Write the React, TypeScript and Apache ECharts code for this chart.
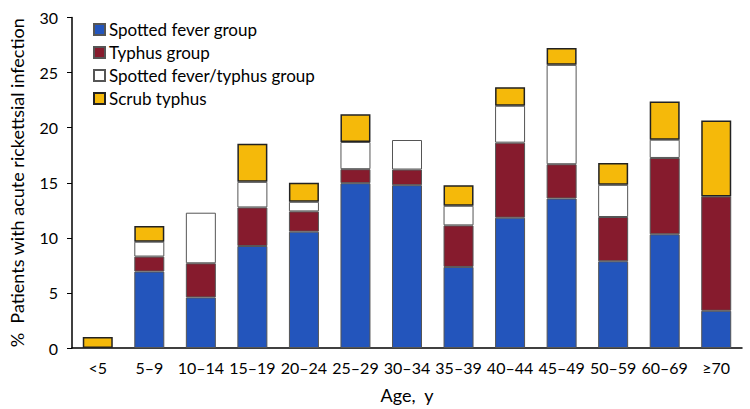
import React, { useEffect, useRef } from "react";
import * as echarts from "echarts";

const categories = ["<5", "5–9", "10–14", "15–19", "20–24", "25–29", "30–34", "35–39", "40–44", "45–49", "50–59", "60–69", "≥70"];
const spottedFever = [0, 6.94, 4.59, 9.26, 10.56, 14.96, 14.78, 7.36, 11.83, 13.57, 7.87, 10.32, 3.38];
const typhus = [0, 1.36, 3.1, 3.5, 1.84, 1.27, 1.42, 3.77, 6.81, 3.11, 4.02, 6.93, 10.38];
const spottedTyphus = [0, 1.35, 4.59, 2.32, 0.87, 2.47, 2.68, 1.78, 3.35, 9.02, 2.92, 1.66, 0];
const scrubTyphus = [1.0, 1.42, 0, 3.47, 1.72, 2.51, 0, 1.87, 1.69, 1.54, 1.99, 3.47, 6.9];
const yTicks = [0, 5, 10, 15, 20, 25, 30];

const FONT = "Lato, 'DejaVu Sans', sans-serif";

export default function App() {
  const ref = useRef<HTMLDivElement>(null);
  useEffect(() => {
    if (!ref.current) return;
    const chart = echarts.init(ref.current, undefined, { renderer: "svg" });
    const clean = (arr: number[]) => arr.map((v) => (v === 0 ? null : v));
    const mk = (name: string, data: number[], color: string, border: string, bw: number) => ({
      name,
      type: "bar",
      stack: "total",
      barWidth: 30,
      data: clean(data),
      itemStyle: { color, borderColor: border, borderWidth: bw },
      emphasis: { disabled: true },
    });
    chart.setOption({
      animation: false,
      textStyle: { fontFamily: FONT },
      grid: { left: 68, right: 8, top: 17.5, bottom: 60 },
      legend: {
        orient: "vertical",
        left: 88,
        top: 16,
        itemWidth: 11,
        itemHeight: 11,
        itemGap: 6,
        icon: "rect",
        textStyle: { fontSize: 17, color: "#000", fontFamily: FONT, padding: [0, 0, 0, -1] },
        data: ["Spotted fever group", "Typhus group", "Spotted fever/typhus group", "Scrub typhus"],
      },
      xAxis: {
        type: "category",
        data: categories,
        name: "Age,  y",
        nameLocation: "middle",
        nameGap: 38,
        nameTextStyle: { fontSize: 18, color: "#000", fontFamily: FONT },
        axisLine: { lineStyle: { color: "#000", width: 1.5 } },
        axisTick: { show: false },
        axisLabel: { fontSize: 16, color: "#000", margin: 11, interval: 0, fontFamily: FONT },
      },
      yAxis: {
        type: "value",
        min: yTicks[0],
        max: yTicks[yTicks.length - 1],
        interval: 5,
        name: "%  Patients with acute rickettsial infection",
        nameLocation: "middle",
        nameGap: 46,
        nameTextStyle: { fontSize: 18, color: "#000", fontFamily: FONT },
        axisLine: { show: true, lineStyle: { color: "#000", width: 1.5 } },
        axisTick: { show: true, length: 5, lineStyle: { color: "#000" } },
        splitLine: { show: false },
        axisLabel: { fontSize: 16, color: "#000", margin: 14, fontFamily: FONT },
      },
      series: [
        mk("Spotted fever group", spottedFever, "#2355BC", "#555", 1),
        mk("Typhus group", typhus, "#861B2D", "#555", 1),
        mk("Spotted fever/typhus group", spottedTyphus, "#FFFFFF", "#555", 1),
        mk("Scrub typhus", scrubTyphus, "#F5B90A", "#222", 1.5),
      ],
    });
    return () => chart.dispose();
  }, []);
  return <div ref={ref} style={{ width: 750, height: 409, position: "absolute", left: 0, top: 0 }} />;
}
